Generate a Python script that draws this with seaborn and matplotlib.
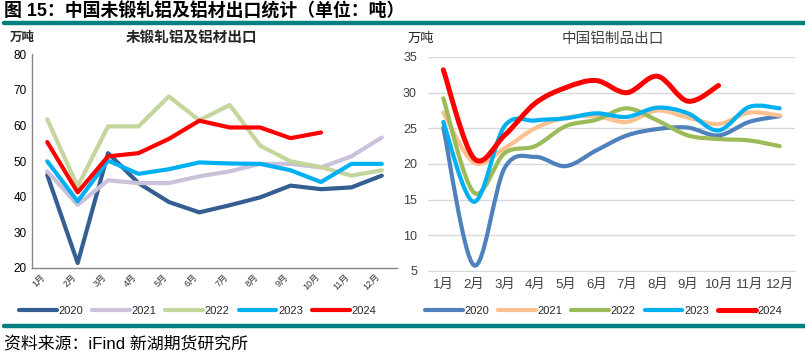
import numpy as np
import pandas as pd
import seaborn as sns
from matplotlib import pyplot as plt
from matplotlib.lines import Line2D
from matplotlib.path import Path
from matplotlib.patches import PathPatch

sns.set_style('white')
plt.rcParams['font.family'] = ['Liberation Sans', 'Noto Sans CJK SC']
plt.rcParams['axes.unicode_minus'] = False

months = ['1月', '2月', '3月', '4月', '5月', '6月', '7月', '8月', '9月', '10月', '11月', '12月']
years = ['2020', '2021', '2022', '2023', '2024']

# 未锻轧铝及铝材出口 (万吨)
raw_2020 = [46.1, 21.4, 52.2, 43.8, 38.5, 35.6, 37.6, 39.8, 43.1, 42.1, 42.6, 45.9]
raw_2021 = [47.1, 37.7, 44.6, 43.8, 43.8, 45.7, 47.1, 49.2, 49.2, 48.2, 51.3, 56.6]
raw_2022 = [61.7, 42.9, 59.7, 59.7, 68.1, 61.4, 65.7, 54.3, 49.9, 48.3, 45.9, 47.4]
raw_2023 = [49.9, 38.7, 50.1, 46.4, 47.7, 49.6, 49.3, 49.2, 47.4, 44.1, 49.2, 49.2]
raw_2024 = [55.3, 41.2, 51.3, 52.2, 56.2, 61.3, 59.4, 59.4, 56.4, 58.0]

# 中国铝制品出口 (万吨)
prod_2020 = [25.1, 5.8, 19.4, 21.0, 19.7, 21.9, 24.0, 24.9, 25.1, 24.0, 25.9, 26.7]
prod_2021 = [27.2, 20.2, 22.2, 25.0, 26.5, 26.7, 25.9, 27.5, 26.5, 25.6, 27.2, 26.8]
prod_2022 = [29.2, 16.0, 21.5, 22.5, 25.3, 26.2, 27.8, 26.1, 24.0, 23.5, 23.3, 22.5]
prod_2023 = [25.9, 14.7, 25.3, 26.1, 26.4, 27.1, 26.6, 27.9, 27.1, 24.7, 28.0, 27.8]
prod_2024 = [33.2, 20.8, 24.0, 28.5, 30.7, 31.7, 30.0, 32.3, 28.8, 31.0]

left_colors = ['#355E92', '#CCC1DA', '#C3D69B', '#00B0F0', '#FF0000']
right_colors = ['#4F81BD', '#FAC090', '#9BBB59', '#00B0F0', '#FF0000']


def to_long(series):
    rows = []
    for yr, vals in zip(years, series):
        for i, v in enumerate(vals):
            rows.append({'pos': i, 'year': yr, 'val': v})
    return pd.DataFrame(rows)


raw_df = to_long([raw_2020, raw_2021, raw_2022, raw_2023, raw_2024])
prod_df = to_long([prod_2020, prod_2021, prod_2022, prod_2023, prod_2024])

fig = plt.figure(figsize=(8.05, 3.56), dpi=100)
ax1 = fig.add_axes([0.0398, 0.2472, 0.4534, 0.6011])
ax2 = fig.add_axes([0.5317, 0.2388, 0.4559, 0.6011])

# ---- left chart
sns.lineplot(data=raw_df, x='pos', y='val', hue='year', palette=left_colors,
             linewidth=3, sort=False, legend=False, ax=ax1)
for ln in ax1.get_lines():
    ln.set_solid_capstyle('round')
    ln.set_solid_joinstyle('round')
ax1.set_xlim(-0.5, 11.5)
ax1.set_ylim(20, 80)
ax1.set_yticks(range(20, 81, 10))
ax1.set_xticks(range(12))
ax1.set_xticklabels(months, rotation=45, ha='right', va='top', fontsize=6.5, color='#333333')
ax1.tick_params(axis='y', labelsize=8.5, colors='#000000', length=0, pad=4)
ax1.tick_params(axis='x', length=0, pad=3)
ax1.set_xlabel('')
ax1.set_ylabel('')
for s in ['top', 'right']:
    ax1.spines[s].set_visible(False)
for s in ['left', 'bottom']:
    ax1.spines[s].set_color('#868686')
    ax1.spines[s].set_linewidth(1)

# ---- right chart (smoothed lines like Excel)
sns.lineplot(data=prod_df, x='pos', y='val', hue='year', palette=right_colors,
             linewidth=3, sort=False, legend=False, ax=ax2)


def smooth_path(x, y):
    pts = np.column_stack([x, y])
    n = len(pts)
    verts = [pts[0]]
    codes = [Path.MOVETO]
    for i in range(n - 1):
        p0 = pts[i - 1] if i > 0 else pts[i]
        p1 = pts[i]
        p2 = pts[i + 1]
        p3 = pts[i + 2] if i + 2 < n else pts[i + 1]
        c1 = p1 + (p2 - p0) / 6.0
        c2 = p2 - (p3 - p1) / 6.0
        verts += [c1, c2, p2]
        codes += [Path.CURVE4] * 3
    return Path(verts, codes)


for ln in list(ax2.get_lines()):
    xd, yd = ln.get_data()
    lw = 3.6 if ln.get_color() in ('#FF0000', '#ff0000') else 3
    patch = PathPatch(smooth_path(np.asarray(xd, float), np.asarray(yd, float)),
                      fill=False, edgecolor=ln.get_color(), lw=lw,
                      capstyle='round', joinstyle='round', zorder=3)
    ax2.add_patch(patch)
    ln.remove()

ax2.set_xlim(-0.5, 11.5)
ax2.set_ylim(5, 35)
ax2.set_yticks(range(5, 36, 5))
ax2.set_xticks(range(12))
ax2.set_xticklabels(months, fontsize=9.5, color='#404040')
ax2.tick_params(axis='y', labelsize=9, colors='#404040', length=0, pad=8)
ax2.tick_params(axis='x', length=0, pad=6)
ax2.grid(axis='y', color='#D9D9D9', linewidth=1)
ax2.set_axisbelow(True)
ax2.set_xlabel('')
ax2.set_ylabel('')
for s in ['top', 'right', 'left']:
    ax2.spines[s].set_visible(False)
ax2.spines['bottom'].set_color('#D9D9D9')

# ---- texts
fig.text(0.005, 0.968, '图 15：中国未锻轧铝及铝材出口统计（单位：吨）', fontsize=12.9,
         fontweight='bold', ha='left', va='center', color='#000000')
fig.text(0.012, 0.893, '万吨', fontsize=9, fontweight='bold', ha='left', va='center')
fig.text(0.2385, 0.893, '未锻轧铝及铝材出口', fontsize=10.5, fontweight='bold',
         ha='center', va='center')
fig.text(0.506, 0.89, '万吨', fontsize=9.5, ha='left', va='center')
fig.text(0.7615, 0.89, '中国铝制品出口', fontsize=10.5, ha='center', va='center', color='#404040')
fig.text(0.005, 0.034, '资料来源：iFind 新湖期货研究所', fontsize=12.2, ha='left',
         va='center', color='#000000')

# teal rules
fig.add_artist(Line2D([0.005, 1.0], [0.934, 0.934], color='#007F7F', lw=3.2,
                      transform=fig.transFigure))
fig.add_artist(Line2D([0.005, 1.0], [0.084, 0.084], color='#007F7F', lw=3.2,
                      transform=fig.transFigure))

# legends
for colors, cx, lw_last in [(left_colors, 0.2453, 3), (right_colors, 0.7498, 3.6)]:
    handles = [Line2D([], [], color=c, lw=(lw_last if i == 4 else 3), solid_capstyle='round')
               for i, c in enumerate(colors)]
    fig.legend(handles, years, loc='center', bbox_to_anchor=(cx, 0.126), ncol=5,
               frameon=False, fontsize=8, handlelength=3.4, handletextpad=0.15,
               columnspacing=0.8, borderpad=0, borderaxespad=0)

fig.savefig('out.png', dpi=100)
